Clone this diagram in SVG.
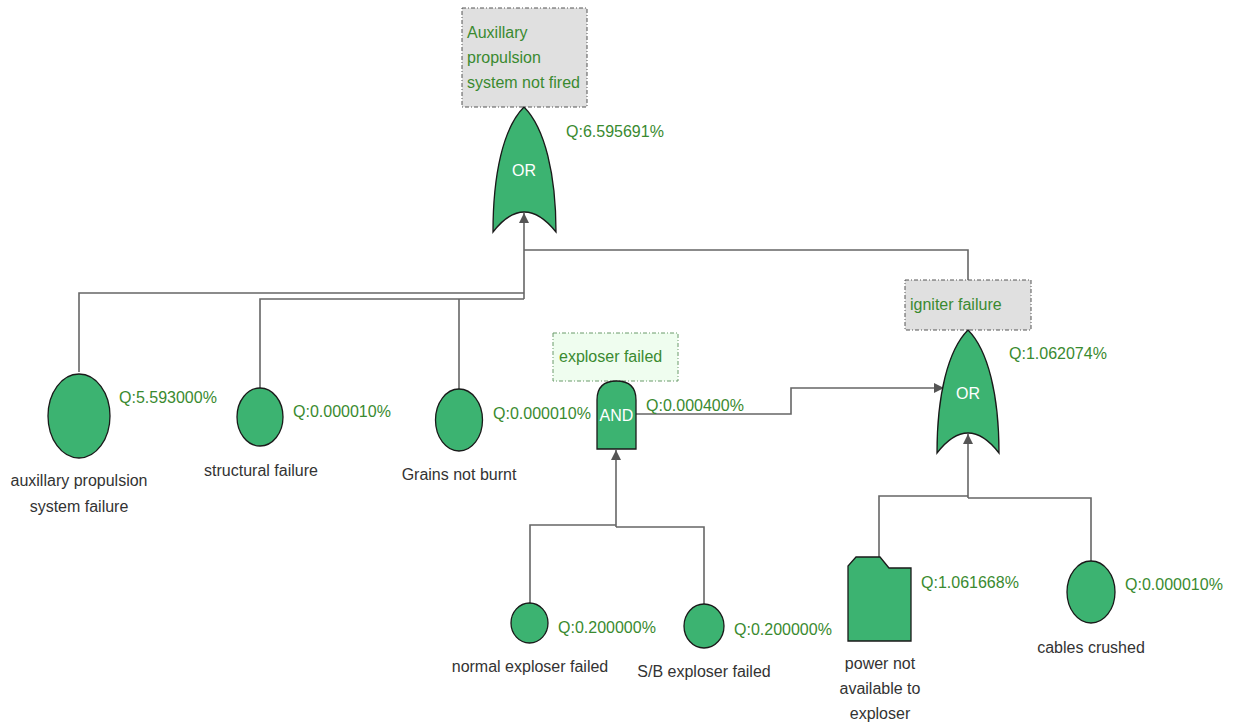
<svg xmlns="http://www.w3.org/2000/svg" width="1234" height="727" viewBox="0 0 1234 727">
<style>
.ev{fill:#3cb371;stroke:#1a1a1a;stroke-width:1.3}
.gate{fill:#3cb371;stroke:#1a1a1a;stroke-width:1.3}
.gt{font-family:"Liberation Sans",Arial,sans-serif;font-size:16px;fill:#ffffff;text-anchor:middle}
.q{font-family:"Liberation Sans",Arial,sans-serif;font-size:16px;fill:#3a8a30}
.lbl{font-family:"Liberation Sans",Arial,sans-serif;font-size:16px;fill:#333333;text-anchor:middle}
.ttl{font-family:"Liberation Sans",Arial,sans-serif;font-size:16px;fill:#3a8a30}
.box{fill:#e0e0e0;stroke:#555555;stroke-width:1;stroke-dasharray:4 2 1 2}
.gbox{fill:#effdef;stroke:#6a9a6a;stroke-width:1;stroke-dasharray:4 2 1 2}
.con{fill:none;stroke:#666666;stroke-width:1.6}
</style>
<defs>
<marker id="arr" viewBox="0 0 10 10" refX="10" refY="5" markerWidth="10" markerHeight="10" markerUnits="userSpaceOnUse" orient="auto">
<path d="M0,0 L10,5 L0,10 Z" fill="#555555"/>
</marker>
</defs>
<g id="connectors">
<path class="con" d="M968,280 V250 H524"/>
<path class="con" d="M79,372 V293 H524"/>
<path class="con" d="M260,388 V299 H524"/>
<path class="con" d="M459,389 V299"/>
<path class="con" d="M524,299 V213" marker-end="url(#arr)"/>
<path class="con" d="M636,414 H791 V388 H944" marker-end="url(#arr)"/>
<path class="con" d="M530,603 V525 H616 M704,604 V527 H616"/>
<path class="con" d="M616,527 V450" marker-end="url(#arr)"/>
<path class="con" d="M879,557 V496 H968 M1091,561 V498 H968"/>
<path class="con" d="M968,498 V434" marker-end="url(#arr)"/>
</g>
<g id="top-event">
<rect class="box" x="462" y="8" width="125" height="99"/>
<text class="ttl" x="467" y="38">Auxillary</text>
<text class="ttl" x="467" y="63">propulsion</text>
<text class="ttl" x="467" y="88">system not fired</text>
</g>
<g id="or-top">
<path class="gate" d="M524,107 C545,128 556,175 556,232 Q524,192 493,232 C493,175 503,128 524,107 Z"/>
<text class="gt" x="524" y="176">OR</text>
<text class="q" x="566" y="137">Q:6.595691%</text>
</g>
<g id="ev-aux">
<ellipse class="ev" cx="79" cy="416" rx="31" ry="42"/>
<text class="q" x="119" y="403">Q:5.593000%</text>
<text class="lbl" x="79" y="486">auxillary propulsion</text>
<text class="lbl" x="79" y="512">system failure</text>
</g>
<g id="ev-structural">
<ellipse class="ev" cx="260" cy="417" rx="23" ry="29"/>
<text class="q" x="293" y="417">Q:0.000010%</text>
<text class="lbl" x="261" y="476">structural failure</text>
</g>
<g id="ev-grains">
<ellipse class="ev" cx="459" cy="420" rx="23.5" ry="31"/>
<text class="q" x="493" y="419">Q:0.000010%</text>
<text class="lbl" x="459" y="480">Grains not burnt</text>
</g>
<g id="exploser">
<rect class="gbox" x="553" y="333" width="125" height="48"/>
<text class="ttl" x="559" y="362">exploser failed</text>
<path class="gate" d="M597,449 V400 Q597,381 616.5,381 Q636,381 636,400 V449 Z"/>
<text class="gt" x="616.5" y="421">AND</text>
<text class="q" x="646" y="411">Q:0.000400%</text>
</g>
<g id="ev-normal">
<ellipse class="ev" cx="529.5" cy="623" rx="18.5" ry="20"/>
<text class="q" x="558" y="633">Q:0.200000%</text>
<text class="lbl" x="530" y="672">normal exploser failed</text>
</g>
<g id="ev-sb">
<ellipse class="ev" cx="704" cy="626" rx="20" ry="22"/>
<text class="q" x="734" y="635">Q:0.200000%</text>
<text class="lbl" x="704" y="677">S/B exploser failed</text>
</g>
<g id="igniter">
<rect class="box" x="905" y="280" width="126" height="50"/>
<text class="ttl" x="910" y="310">igniter failure</text>
<path class="gate" d="M968,330 C988,350 999,395 999,453 Q968,413 937,453 C937,395 948,350 968,330 Z"/>
<text class="gt" x="968" y="399">OR</text>
<text class="q" x="1009" y="359">Q:1.062074%</text>
</g>
<g id="ev-power">
<path class="ev" d="M848,641 V566 L856,557 H880 L889,568 H911 V641 Z"/>
<text class="q" x="921" y="588">Q:1.061668%</text>
<text class="lbl" x="880" y="669">power not</text>
<text class="lbl" x="880" y="694">available to</text>
<text class="lbl" x="880" y="719">exploser</text>
</g>
<g id="ev-cables">
<ellipse class="ev" cx="1091" cy="592" rx="24" ry="31"/>
<text class="q" x="1125" y="590">Q:0.000010%</text>
<text class="lbl" x="1091" y="653">cables crushed</text>
</g>
</svg>
